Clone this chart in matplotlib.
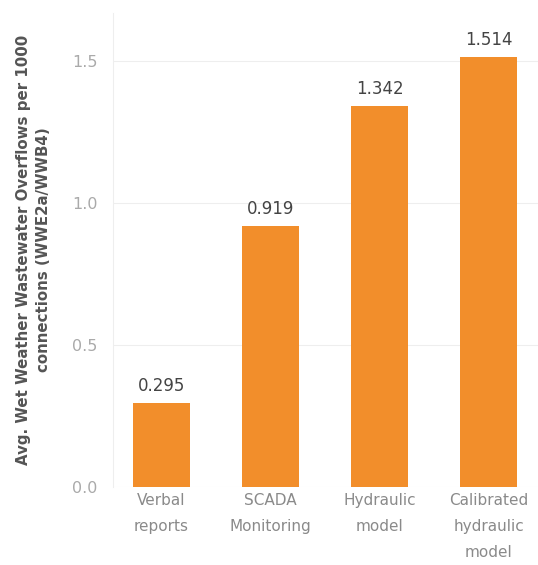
import matplotlib
matplotlib.use("Agg")
import matplotlib.pyplot as plt
import numpy as np

matplotlib.rcParams['font.family'] = 'DejaVu Sans'
matplotlib.rcParams['font.size'] = 9

categories = ["Verbal\nreports", "SCADA\nMonitoring", "Hydraulic\nmodel", "Calibrated\nhydraulic\nmodel"]
values     = [0.295, 0.919, 1.342, 1.514]
yticks     = [0.0, 0.5, 1.0, 1.5]

BAR_COLOR = "#F28E2B"


def main():
    fig = plt.figure(figsize=(5.38, 5.65), dpi=100)
    ax = fig.add_axes([0.210, 0.138, 0.790, 0.839])

    x = np.arange(len(categories))
    ax.bar(x, values, width=0.52, color=BAR_COLOR, zorder=2)

    # value labels on top of bars
    for xi, v in zip(x, values):
        ax.text(xi, v + 0.028, "%.3f" % v, ha="center", va="bottom",
                fontsize=12, color="#444444")

    ax.set_xlim(-0.445, 3.454)
    ax.set_ylim(0, 1.67)
    ax.set_xticks(x)
    ax.set_xticklabels(categories, color="#8a8a8a", fontsize=11, linespacing=1.95)
    ax.set_yticks(yticks)
    ax.set_yticklabels(["%.1f" % t for t in yticks], color="#aaaaaa", fontsize=11.5)
    ax.tick_params(axis="x", length=0, pad=4)
    ax.tick_params(axis="y", length=0, pad=11)

    ax.grid(axis="y", color="#EEEEEE", linewidth=0.8, zorder=0)
    for s in ["top", "right", "bottom"]:
        ax.spines[s].set_visible(False)
    ax.spines["left"].set_color("#EEEEEE")

    ax.set_ylabel("Avg. Wet Weather Wastewater Overflows per 1000\nconnections (WWE2a/WWB4)",
                  color="#555555", fontsize=10.8, fontweight="bold", labelpad=15,
                  linespacing=1.45)

    plt.savefig("out.png", dpi=100)
    plt.close()


if __name__ == '__main__':
    main()
